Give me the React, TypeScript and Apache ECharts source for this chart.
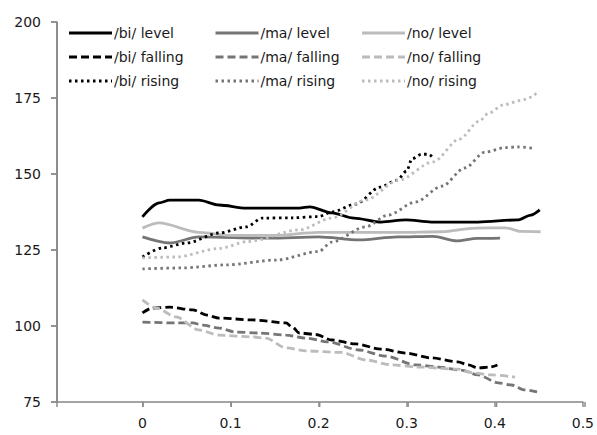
import React, { useEffect, useRef } from "react";
import * as echarts from "echarts";

// x (proportion) and y values per series
const biLevelX = [0, 0.019, 0.031, 0.064, 0.087, 0.118, 0.178, 0.19, 0.215, 0.24, 0.271, 0.299, 0.328, 0.381, 0.426, 0.441, 0.451];
const biLevelY = [135.9, 140.5, 141.4, 141.4, 139.8, 138.8, 138.8, 139.2, 137.2, 135.5, 134.2, 134.9, 134.2, 134.2, 134.9, 136.5, 138.2];

const maLevelX = [0, 0.031, 0.064, 0.144, 0.2, 0.246, 0.29, 0.33, 0.357, 0.38, 0.406];
const maLevelY = [129.3, 127.3, 129.3, 128.9, 129.3, 128.3, 129.3, 129.5, 128.0, 128.8, 128.9];

const noLevelX = [0, 0.019, 0.064, 0.1, 0.15, 0.2, 0.25, 0.29, 0.34, 0.378, 0.412, 0.43, 0.452];
const noLevelY = [132.2, 133.9, 130.8, 129.8, 129.8, 130.8, 130.8, 130.8, 131.0, 132.2, 132.3, 131.1, 131.0];

const biFallingX = [0, 0.011, 0.031, 0.057, 0.073, 0.087, 0.125, 0.163, 0.17, 0.178, 0.197, 0.215, 0.242, 0.271, 0.299, 0.328, 0.358, 0.37, 0.381, 0.395, 0.403];
const biFallingY = [104.3, 105.9, 106.2, 105.3, 103.6, 102.6, 102.0, 101.0, 99.7, 97.7, 97.2, 95.4, 94.1, 92.4, 91.1, 89.5, 88.2, 87.2, 86.2, 86.5, 87.2];

const maFallingX = [0, 0.038, 0.057, 0.068, 0.087, 0.106, 0.132, 0.163, 0.186, 0.21, 0.246, 0.276, 0.31, 0.336, 0.362, 0.381, 0.404, 0.419, 0.434, 0.448];
const maFallingY = [101.3, 101.0, 101.0, 100.3, 99.3, 98.0, 97.7, 97.0, 96.0, 94.8, 92.1, 90.1, 87.2, 86.5, 85.5, 83.9, 81.3, 80.6, 79.0, 78.3];

const noFallingX = [0, 0.016, 0.038, 0.064, 0.087, 0.125, 0.14, 0.163, 0.186, 0.226, 0.254, 0.283, 0.313, 0.358, 0.377, 0.396, 0.423];
const noFallingY = [108.6, 105.9, 103.0, 98.7, 97.0, 96.4, 96.0, 92.8, 91.8, 91.3, 88.8, 87.2, 86.5, 85.8, 84.5, 83.9, 83.2];

const biRisingX = [0, 0.023, 0.05, 0.087, 0.118, 0.136, 0.17, 0.2, 0.215, 0.242, 0.27, 0.289, 0.3, 0.306, 0.317, 0.325, 0.33];
const biRisingY = [122.7, 125.7, 127.3, 130.6, 132.6, 135.5, 135.6, 136.0, 137.5, 140.1, 145.7, 148.0, 151.0, 155.0, 156.5, 156.5, 155.3];

const maRisingX = [0, 0.045, 0.095, 0.152, 0.2, 0.215, 0.253, 0.279, 0.31, 0.34, 0.366, 0.389, 0.412, 0.426, 0.446];
const maRisingY = [118.8, 119.1, 120.1, 121.7, 124.5, 127.6, 132.6, 136.5, 140.8, 146.0, 152.0, 157.2, 158.7, 158.9, 158.4];

const noRisingX = [0, 0.038, 0.087, 0.12, 0.178, 0.215, 0.253, 0.291, 0.33, 0.36, 0.382, 0.393, 0.41, 0.43, 0.442, 0.447];
const noRisingY = [122.4, 122.7, 125.5, 127.8, 131.6, 135.5, 141.4, 148.0, 154.0, 161.5, 167.3, 170.0, 172.8, 174.2, 175.3, 176.6];

const X_MIN = -0.097;
const X_MAX = 0.5;
const Y_MIN = 75;
const Y_MAX = 200;
const xTickValues = [0, 0.1, 0.2, 0.3, 0.4, 0.5];
const yTickValues = [75, 100, 125, 150, 175, 200];
const speakers = ["/bi/", "/ma/", "/no/"];
const contours = ["level", "falling", "rising"];

const BLACK = "#000000";
const DARK = "#757575";
const LIGHT = "#bcbcbc";
const AXIS = "#868686";
const TICK = "#8c8c8c";
const TEXT = "#1a1a1a";
const FONT = "DejaVu Sans";

const COLORS = [BLACK, DARK, LIGHT];
const DASHES: any[] = [null, [8, 4], [2.5, 3.5]];

const W = 597;
const H = 435;
const GRID = { left: 57, right: 12, top: 22, bottom: 33 };

const pairs = (xs: number[], ys: number[]) => xs.map((x, i) => [x, ys[i]]);

export default function App() {
  const ref = useRef<HTMLDivElement>(null);
  useEffect(() => {
    if (!ref.current) return;
    const chart = echarts.init(ref.current, undefined, { renderer: "svg" });
    const mk = (name: string, xs: number[], ys: number[], color: string, dash: any) => ({
      name,
      type: "line",
      data: pairs(xs, ys),
      symbol: "none",
      showSymbol: false,
      smooth: 0.3,
      smoothMonotone: "x",
      lineStyle: { color, width: 2.8, type: dash || "solid" },
      itemStyle: { color },
    });

    // legend drawn as graphic rows/columns (3 x 3)
    const graphics: any[] = [];
    speakers.forEach((sp, c) => {
      contours.forEach((ct, r) => {
        const x0 = 69 + c * 146.5;
        const y0 = 33 + r * 24;
        const lineStyle: any = { stroke: COLORS[c], lineWidth: 2.8 };
        if (DASHES[r]) lineStyle.lineDash = DASHES[r];
        graphics.push({
          type: "line",
          shape: { x1: x0, y1: y0, x2: x0 + 43, y2: y0 },
          style: lineStyle,
          silent: true,
        });
        graphics.push({
          type: "text",
          x: x0 + 45,
          y: y0,
          style: {
            text: `${sp} ${ct}`,
            fontFamily: FONT,
            fontSize: 14,
            fill: TEXT,
            verticalAlign: "middle",
            align: "left",
          },
          silent: true,
        });
      });
    });

    // left axis line and tick marks (axis frame decoration)
    const plotW = W - GRID.left - GRID.right;
    const plotH = H - GRID.top - GRID.bottom;
    graphics.push({
      type: "rect",
      shape: { x: GRID.left - 0.75, y: GRID.top, width: 1.5, height: plotH + 0.75 },
      style: { fill: AXIS },
      silent: true,
      z: 50,
    });
    yTickValues.forEach((v) => {
      const py = GRID.top + ((Y_MAX - v) / (Y_MAX - Y_MIN)) * plotH;
      graphics.push({
        type: "rect",
        shape: { x: GRID.left - 6, y: py - 0.75, width: 6, height: 1.5 },
        style: { fill: TICK },
        silent: true,
        z: 50,
      });
    });
    xTickValues.forEach((v) => {
      const px = GRID.left + ((v - X_MIN) / (X_MAX - X_MIN)) * plotW;
      graphics.push({
        type: "rect",
        shape: { x: px - 0.75, y: GRID.top + plotH, width: 1.5, height: 5 },
        style: { fill: TICK },
        silent: true,
        z: 50,
      });
    });

    chart.setOption({
      animation: false,
      grid: { ...GRID },
      xAxis: {
        type: "value",
        min: X_MIN,
        max: X_MAX,
        splitNumber: 6,
        splitLine: { show: false },
        axisLine: { show: true, onZero: false, lineStyle: { color: AXIS, width: 1.5 } },
        axisTick: { show: true, length: 5, lineStyle: { color: TICK, width: 1.5 } },
        axisLabel: {
          margin: 14,
          fontFamily: FONT,
          fontSize: 14,
          color: TEXT,
          formatter: (v: number) => (v < -0.001 ? "" : String(Math.round(v * 10) / 10)),
        },
      },
      yAxis: {
        type: "value",
        min: Y_MIN,
        max: Y_MAX,
        interval: 25,
        splitLine: { show: false },
        axisLine: { show: true, onZero: false, lineStyle: { color: AXIS, width: 1.5 } },
        axisTick: { show: true, length: 6, lineStyle: { color: TICK, width: 1.5 } },
        axisLabel: { margin: 16, fontFamily: FONT, fontSize: 14, color: TEXT },
      },
      graphic: graphics,
      series: [
        mk("/bi/ level", biLevelX, biLevelY, BLACK, DASHES[0]),
        mk("/ma/ level", maLevelX, maLevelY, DARK, DASHES[0]),
        mk("/no/ level", noLevelX, noLevelY, LIGHT, DASHES[0]),
        mk("/bi/ falling", biFallingX, biFallingY, BLACK, DASHES[1]),
        mk("/ma/ falling", maFallingX, maFallingY, DARK, DASHES[1]),
        mk("/no/ falling", noFallingX, noFallingY, LIGHT, DASHES[1]),
        mk("/bi/ rising", biRisingX, biRisingY, BLACK, DASHES[2]),
        mk("/ma/ rising", maRisingX, maRisingY, DARK, DASHES[2]),
        mk("/no/ rising", noRisingX, noRisingY, LIGHT, DASHES[2]),
      ],
    });
    return () => chart.dispose();
  }, []);
  return <div ref={ref} style={{ position: "fixed", left: 0, top: 0, width: W, height: H, background: "#fff" }} />;
}
